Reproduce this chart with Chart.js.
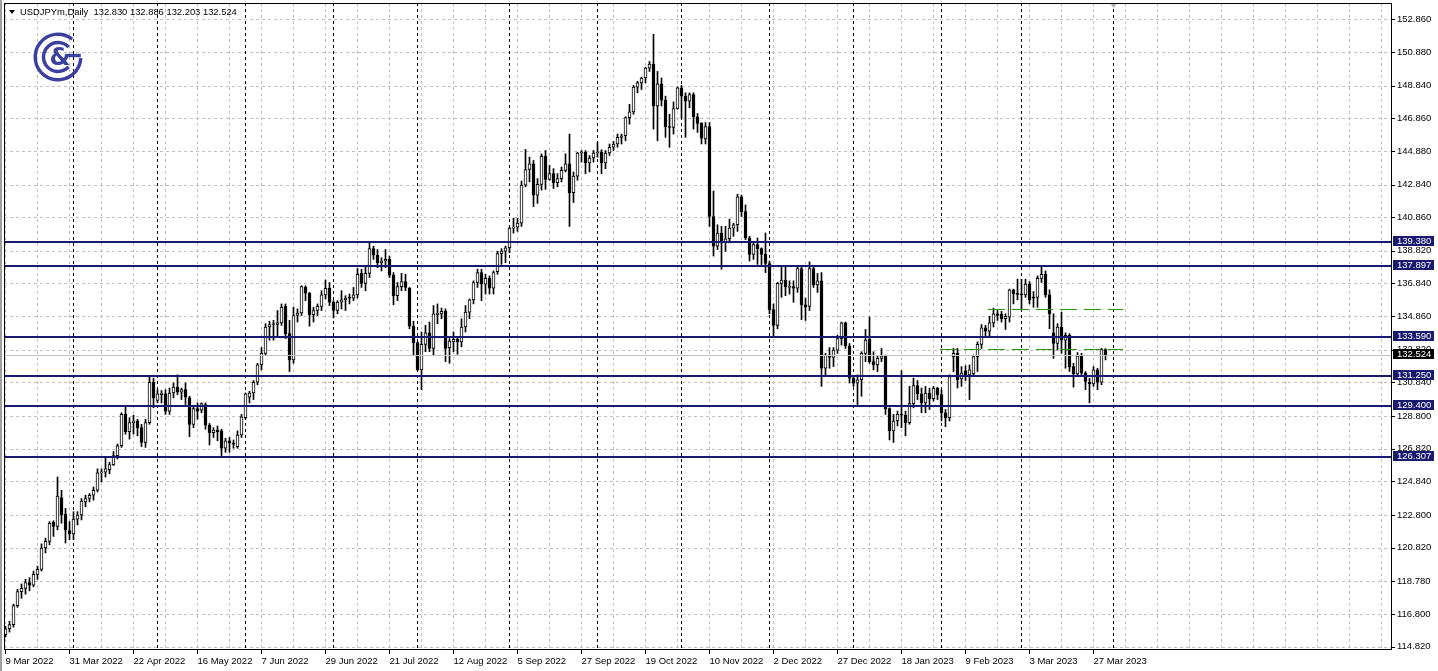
<!DOCTYPE html>
<html><head><meta charset="utf-8">
<script src="https://cdn.jsdelivr.net/npm/chart.js@4.4.1/dist/chart.umd.min.js"></script>
<style>html,body{margin:0;padding:0;background:#fff;overflow:hidden}canvas{display:block}</style>
</head><body>
<canvas id="c" width="1438" height="671"></canvas>
<script>
// ---- data (bar index 0 = 9 Mar 2022 ... 275 = 30 Mar 2023) ----
const opens=[
115.55,115.90,116.15,117.30,118.15,118.35,118.70,118.55,119.20,119.50,
120.80,121.20,122.35,122.10,123.85,122.85,121.85,121.65,122.55,122.80,
123.60,123.80,124.00,124.30,125.35,125.40,125.55,125.85,126.40,127.00,
128.90,127.85,128.40,128.50,128.10,127.20,128.40,130.85,129.75,130.10,
130.15,129.10,130.20,130.55,130.25,130.40,129.90,128.30,129.25,129.15,
129.50,128.25,127.80,127.95,127.90,126.85,127.30,127.15,126.95,127.65,
128.70,129.95,130.20,130.85,131.90,132.60,134.20,134.35,134.35,134.45,
135.45,133.80,132.20,134.90,135.05,136.60,136.25,134.95,135.20,135.45,
136.15,136.55,135.70,135.20,135.70,135.85,136.00,135.95,136.15,137.45,
136.85,137.45,138.95,138.55,138.10,138.20,138.30,137.35,136.10,136.65,
136.95,136.55,134.25,133.25,131.60,133.15,133.85,132.90,134.95,135.00,
135.15,132.95,133.30,133.45,133.30,134.20,135.10,135.85,136.90,137.50,
136.80,137.15,136.55,137.55,138.65,138.80,139.00,140.20,140.25,140.50,
142.80,143.75,144.10,142.20,142.85,144.55,143.15,143.50,142.95,143.20,
143.70,144.10,142.35,143.35,144.75,144.80,144.15,144.45,144.75,144.80,
144.15,144.75,145.10,145.30,145.70,145.80,146.90,147.25,148.75,149.00,
149.30,149.90,150.15,147.60,148.95,147.95,146.35,146.30,147.45,148.70,
148.20,147.90,148.30,146.95,146.55,145.60,146.35,140.90,139.10,139.90,
139.30,139.55,140.20,140.40,142.10,141.20,139.60,138.60,139.20,138.95,
138.60,138.05,135.25,134.30,136.85,137.05,136.60,136.65,136.55,137.75,
135.55,135.45,137.75,136.75,137.00,131.70,132.50,132.35,132.80,133.50,
134.45,133.05,131.10,130.80,131.00,132.60,133.45,132.10,131.90,132.30,
132.45,129.25,127.90,128.50,128.90,128.85,128.40,129.55,130.65,130.15,
129.60,130.20,129.85,130.50,130.10,129.00,128.70,132.40,132.60,131.05,
131.55,131.30,131.35,132.40,133.15,134.15,133.95,134.45,135.00,134.98,
134.70,134.80,136.45,136.22,136.18,136.15,136.80,136.00,136.00,137.15,
137.40,136.15,133.85,133.20,134.20,133.40,133.70,131.80,131.35,132.45,
131.40,130.85,130.75,131.60,130.85,132.830];
const highs=[
116.05,116.35,117.40,118.30,118.62,118.90,119.00,119.40,119.70,121.05,
121.40,122.40,122.45,125.10,124.30,123.20,122.40,123.00,123.00,123.80,
124.00,124.10,124.50,125.60,125.60,126.30,126.00,126.65,127.10,129.00,
129.45,128.70,128.85,128.60,128.30,128.60,131.25,131.10,130.40,130.35,
130.40,130.50,130.80,131.30,130.50,130.80,130.00,129.40,129.60,129.60,
129.60,128.35,128.10,128.20,128.00,127.45,127.50,127.35,127.90,128.90,
130.20,130.30,130.95,132.00,132.95,134.40,134.55,134.60,135.20,135.60,
135.60,134.60,135.40,135.30,136.70,136.70,136.30,135.40,135.60,136.40,
137.05,136.90,135.80,135.80,136.40,136.10,136.20,136.60,137.75,137.70,
137.90,139.38,139.10,138.90,138.40,138.90,138.50,137.50,136.90,137.45,
137.40,136.60,134.55,133.30,133.90,134.30,134.50,135.50,135.60,135.35,
135.30,133.50,133.90,133.60,134.70,135.50,135.90,137.00,137.70,137.70,
137.40,137.30,137.60,138.80,138.95,139.10,140.25,140.80,140.80,143.05,
144.97,144.50,144.30,143.20,144.70,144.90,144.00,143.80,143.50,143.90,
144.70,145.90,143.60,144.80,144.90,144.90,144.60,144.90,145.40,144.95,
144.90,145.30,145.45,145.90,145.90,146.95,147.70,148.85,149.10,149.35,
149.95,150.30,151.95,149.70,149.30,148.20,147.10,147.85,148.75,148.85,
148.40,148.40,148.40,147.15,146.60,146.60,146.60,142.45,140.40,140.30,
140.30,140.75,140.50,142.25,142.20,141.60,139.70,139.35,139.60,139.00,
139.90,138.20,135.60,136.90,137.85,137.85,137.00,137.00,137.90,137.90,
135.95,138.15,137.85,137.45,137.50,132.60,132.95,132.95,133.70,134.50,
134.50,133.20,131.20,131.30,132.70,134.05,134.80,132.70,132.45,132.90,
132.50,129.30,128.90,129.10,131.55,129.10,130.60,131.10,130.95,130.50,
130.60,130.50,130.60,130.55,130.40,129.20,131.30,132.90,132.90,131.80,
131.85,131.90,132.50,133.30,134.35,134.30,134.85,135.35,135.20,135.15,
135.00,136.50,136.50,137.10,137.10,137.10,136.95,136.35,137.30,137.90,
137.60,136.45,135.00,134.40,135.10,133.85,133.80,132.00,132.65,132.60,
131.50,131.10,131.80,131.70,132.90,132.886];
const lows=[
115.40,115.70,116.00,117.20,117.75,118.00,118.20,118.45,118.90,119.40,
120.50,121.00,121.50,121.90,122.30,121.10,121.30,121.30,122.20,122.50,
123.30,123.60,123.70,124.20,124.80,125.10,125.30,125.80,126.20,126.90,
127.70,127.40,127.70,127.60,126.95,126.90,128.30,129.30,129.60,129.60,
128.90,128.90,129.90,130.10,129.80,129.50,127.55,128.10,128.60,129.00,
128.00,127.05,127.50,127.30,126.40,126.60,126.60,126.85,126.85,127.50,
128.60,129.60,129.80,130.70,131.60,132.50,133.40,133.40,133.60,134.30,
133.50,131.50,132.00,134.50,134.90,135.80,134.25,134.50,134.90,135.20,
135.90,135.50,134.75,135.00,135.30,135.20,135.60,135.80,135.95,136.60,
136.40,137.20,138.30,137.80,137.60,137.80,137.20,135.55,135.80,136.40,
136.40,134.10,132.50,131.55,130.40,132.70,132.70,132.50,134.40,134.70,
132.10,132.00,132.70,132.55,133.00,133.90,134.70,135.60,136.60,135.80,
136.20,136.20,136.20,137.40,138.00,138.10,138.70,139.90,140.00,140.30,
142.70,143.00,141.50,141.70,142.50,142.55,143.10,142.60,142.70,143.00,
143.60,140.30,141.75,143.10,144.20,143.50,143.60,144.20,144.50,143.50,
143.80,144.60,144.90,145.10,145.30,145.50,146.50,147.10,148.40,148.60,
149.00,149.70,146.20,145.50,147.60,145.70,145.10,145.90,147.40,146.85,
145.70,147.50,146.20,146.00,145.30,145.30,140.30,138.50,138.90,137.70,
138.80,139.30,139.70,140.00,140.90,139.50,138.20,138.30,138.00,137.90,
137.50,135.00,133.65,134.10,136.00,136.10,136.20,135.70,136.30,134.65,
134.60,135.20,136.60,136.30,130.60,131.30,131.70,131.80,132.60,133.10,
132.90,130.80,130.60,129.50,130.00,132.10,132.00,131.60,131.50,132.10,
128.90,127.35,127.20,128.20,128.10,127.60,128.30,129.30,129.80,129.00,
129.00,129.20,129.70,129.80,128.50,128.15,128.50,131.50,130.50,130.60,
130.95,129.80,131.25,131.50,132.90,133.60,133.60,134.20,134.60,134.50,
134.05,134.50,135.60,135.85,135.25,136.00,135.60,135.40,135.40,136.90,
136.00,134.10,132.30,132.80,132.60,131.70,131.50,130.55,131.20,131.20,
130.40,129.60,130.60,130.40,130.70,132.203];
const closes=[
115.90,116.15,117.30,118.15,118.35,118.70,118.55,119.20,119.50,120.80,
121.20,122.30,122.10,123.95,122.80,121.90,121.65,122.55,122.80,123.65,
123.80,124.00,124.30,125.35,125.40,125.60,125.85,126.40,127.00,128.90,
127.85,128.40,128.50,128.10,127.20,128.40,130.85,129.90,130.15,130.20,
129.10,130.20,130.55,130.25,130.40,129.95,128.30,129.25,129.10,129.55,
128.25,127.80,127.95,127.85,126.85,127.30,127.15,127.10,127.65,128.75,
130.15,130.20,130.85,131.90,132.60,134.20,134.35,134.40,134.45,135.40,
133.80,132.20,134.90,135.05,136.65,136.25,134.95,135.20,135.45,136.15,
136.55,135.70,135.20,135.70,135.85,135.95,135.95,136.15,137.40,136.85,
137.45,138.95,138.55,138.10,138.20,138.30,137.35,136.10,136.65,136.95,
136.60,134.25,133.25,131.60,133.15,133.85,132.90,135.00,135.05,135.15,
132.90,133.35,133.45,133.30,134.20,135.10,135.85,136.90,137.50,136.80,
137.15,136.55,137.50,138.65,138.80,139.00,140.20,140.25,140.50,142.80,
143.75,144.10,142.20,142.85,144.55,143.15,143.50,142.95,143.20,143.70,
144.10,142.35,143.35,144.75,144.80,144.15,144.45,144.75,144.80,144.15,
144.75,145.10,145.30,145.70,145.80,146.90,147.25,148.75,149.00,149.30,
149.90,150.15,147.60,148.95,147.95,146.35,146.30,147.45,148.70,148.20,
147.90,148.30,146.95,146.55,145.65,146.35,140.90,139.10,139.90,139.30,
139.55,140.20,140.40,142.10,141.20,139.60,138.60,139.20,138.95,138.60,
138.05,135.25,134.30,136.85,137.05,136.65,136.65,136.55,137.75,135.55,
135.40,137.75,136.75,137.00,131.70,132.50,132.35,132.80,133.50,134.45,
133.05,131.10,130.80,131.00,132.60,133.40,132.10,131.90,132.30,132.45,
129.25,127.90,128.50,128.90,128.85,128.40,129.55,130.65,130.15,129.60,
130.20,129.85,130.50,130.10,129.00,128.70,131.20,132.60,131.00,131.40,
131.30,131.60,132.40,133.15,134.15,133.95,134.45,135.00,134.90,134.70,
134.85,136.45,136.20,136.18,136.15,136.80,135.85,135.95,137.15,137.40,
136.15,135.00,133.20,134.20,133.40,133.70,131.80,131.35,132.45,131.40,
130.90,130.75,131.60,130.85,132.85,132.524];

const yTicks=[152.860,150.880,148.840,146.860,144.880,142.840,140.860,138.820,136.840,134.860,
132.820,130.840,128.800,126.820,124.840,122.800,120.820,118.780,116.800,114.820];
const labelBars=[0,16,32,48,64,80,96,112,128,144,160,176,192,208,224,240,256,272];
const labelTexts=['9 Mar 2022','31 Mar 2022','22 Apr 2022','16 May 2022','7 Jun 2022','29 Jun 2022',
'21 Jul 2022','12 Aug 2022','5 Sep 2022','27 Sep 2022','19 Oct 2022','10 Nov 2022','2 Dec 2022',
'27 Dec 2022','18 Jan 2023','9 Feb 2023','3 Mar 2023','27 Mar 2023'];
const monthStartBars=[17,38,60,82,103,126,148,169,191,212,234,254,277];
const levelPrices=[139.380,137.897,133.590,131.250,129.400,126.307];
const bidPrice=132.524;
const greenLevels=[132.89,135.27];
const greenFromBar=[233.6,245.6];
const greenToBar=[279.4,279.4];
const shiftMarkBar=277;
const headerText='USDJPYm,Daily  132.830 132.886 132.203 132.524';

// ---- scale ranges ----
const xMin=-0.375, xMax=346.375;
const yMin=114.674, yMax=153.848;

const bodies=opens.map((o,i)=>({x:i,y:[o,closes[i]],up:closes[i]>=o}));
const wicks=lows.map((l,i)=>({x:i,y:[l,highs[i]]}));

const FONT='"Liberation Sans", Arial, sans-serif';
const NAVY='#191970';

function hline(ctx,x1,x2,y){ctx.beginPath();ctx.moveTo(x1,y);ctx.lineTo(x2,y);ctx.stroke();}
function vline(ctx,x,y1,y2){ctx.beginPath();ctx.moveTo(x,y1);ctx.lineTo(x,y2);ctx.stroke();}

const mtPlugin={
  id:'mt',
  beforeDatasetsDraw(chart){
    const {ctx,chartArea:a,scales:{x,y}}=chart;
    ctx.save();
    ctx.beginPath();ctx.rect(a.left,a.top,a.right-a.left,a.bottom-a.top);ctx.clip();
    ctx.lineWidth=1;ctx.strokeStyle='#c0c0c0';ctx.setLineDash([3,3]);
    yTicks.forEach(v=>{const py=Math.round(y.getPixelForValue(v))+0.5;hline(ctx,a.left,a.right,py);});
    for(let i=0;i<=xMax;i+=8){const px=Math.floor(x.getPixelForValue(i))+0.5;vline(ctx,px,a.top,a.bottom);}
    ctx.strokeStyle='#000';ctx.setLineDash([3,3]);
    monthStartBars.forEach(b=>{const px=Math.floor(x.getPixelForValue(b))+0.5;vline(ctx,px,a.top,a.bottom);});
    ctx.restore();
  },
  afterDatasetsDraw(chart){
    const {ctx,chartArea:a,scales:{x,y}}=chart;
    ctx.save();
    ctx.beginPath();ctx.rect(a.left,a.top,a.right-a.left,a.bottom-a.top);ctx.clip();
    // bid line
    ctx.lineWidth=1;ctx.strokeStyle='#c0c0c0';ctx.setLineDash([]);
    hline(ctx,a.left,a.right,Math.round(y.getPixelForValue(bidPrice))+0.5);
    // green dashed lines
    ctx.strokeStyle='#2f9400';ctx.setLineDash([17,7]);
    greenLevels.forEach((v,k)=>{const py=Math.round(y.getPixelForValue(v))+0.5;
      hline(ctx,x.getPixelForValue(greenFromBar[k]),x.getPixelForValue(greenToBar[k]),py);});
    // levels
    ctx.setLineDash([]);ctx.lineWidth=2;ctx.strokeStyle=NAVY;
    levelPrices.forEach(v=>{const py=Math.round(y.getPixelForValue(v));hline(ctx,a.left,a.right,py);});
    ctx.restore();
  },
  afterDraw(chart){
    const {ctx,chartArea:a,scales:{x,y}}=chart;
    ctx.save();
    // window edge
    ctx.fillStyle='#a0a0a0';ctx.fillRect(0,0,2,chart.height);
    // frame
    ctx.lineWidth=1;ctx.strokeStyle='#000';ctx.setLineDash([]);
    ctx.strokeRect(a.left+0.5,a.top+0.5,a.right-a.left,a.bottom-a.top);
    // chart shift marker
    const sx=Math.floor(x.getPixelForValue(shiftMarkBar))+0.5;
    ctx.fillStyle='#b0b0b0';ctx.beginPath();ctx.moveTo(sx-3,a.top+1);ctx.lineTo(sx+3,a.top+1);ctx.lineTo(sx,a.top+5);ctx.closePath();ctx.fill();
    // ticks
    yTicks.forEach(v=>{const py=Math.round(y.getPixelForValue(v))+0.5;hline(ctx,a.right,a.right+4,py);});
    labelBars.forEach(b=>{const px=Math.floor(x.getPixelForValue(b))+0.5;vline(ctx,px,a.bottom,a.bottom+5);});
    // level boxes
    ctx.font='9.5px '+FONT;ctx.textBaseline='middle';ctx.textAlign='left';
    const box=(v,bg)=>{const py=Math.round(y.getPixelForValue(v));
      ctx.fillStyle=bg;ctx.fillRect(a.right+2,py-6,41,10);
      ctx.fillStyle='#fff';ctx.fillText(v.toFixed(3),a.right+6,py-0.5);};
    levelPrices.forEach(v=>box(v,NAVY));
    box(bidPrice,'#000');
    // header
    ctx.fillStyle='#000';
    ctx.beginPath();ctx.moveTo(9,10);ctx.lineTo(15,10);ctx.lineTo(12,14);ctx.closePath();ctx.fill();
    ctx.font='9.4px '+FONT;ctx.textBaseline='middle';ctx.fillText(headerText,20,12.5);
    // logo
    ctx.strokeStyle='#3b3f9e';ctx.fillStyle='#3b3f9e';ctx.lineWidth=3.4;ctx.lineCap='butt';
    const cx=58,cy=57;
    ctx.beginPath();ctx.arc(cx,cy,22.8,-0.9,0.05,true);ctx.stroke();
    ctx.beginPath();ctx.moveTo(cx+22.8,cy-1.5);ctx.lineTo(cx+9,cy-1.5);ctx.stroke();
    ctx.beginPath();ctx.arc(cx,cy,14.5,-0.75,0.75,true);ctx.stroke();
    ctx.font='bold 24px "DejaVu Sans", sans-serif';ctx.textAlign='center';ctx.textBaseline='middle';
    ctx.fillText('&',cx+2,cy+2);
    ctx.restore();
  }
};

new Chart(document.getElementById('c'),{
  type:'bar',
  data:{datasets:[
    {label:'body',data:bodies,order:0,grouped:false,barThickness:3,borderWidth:1,borderColor:'#000',
     borderSkipped:false,minBarLength:1,backgroundColor:c=>(c.raw&&c.raw.up)?'#ffffff':'#000000'},
    {label:'wick',data:wicks,order:1,grouped:false,barThickness:1,borderWidth:0,backgroundColor:'#000'}
  ]},
  options:{
    responsive:false,animation:false,devicePixelRatio:1,
    layout:{padding:{top:3,left:4,right:0,bottom:0}},
    plugins:{legend:{display:false},tooltip:{enabled:false},title:{display:false}},
    scales:{
      x:{type:'linear',min:xMin,max:xMax,offset:false,
        grid:{display:false,drawTicks:false},border:{display:false},
        afterBuildTicks:s=>{s.ticks=labelBars.map(v=>({value:v}));},
        ticks:{autoSkip:false,maxRotation:0,minRotation:0,align:'start',padding:7,color:'#000',
          font:{family:FONT,size:9.5},callback:v=>{const k=labelBars.indexOf(v);return k>=0?labelTexts[k]:'';}},
        afterFit:s=>{s.height=22;s.paddingLeft=0;s.paddingRight=0;s.paddingTop=0;s.paddingBottom=0;}},
      y:{position:'right',min:yMin,max:yMax,
        grid:{display:false,drawTicks:false},border:{display:false},
        afterBuildTicks:s=>{s.ticks=yTicks.map(v=>({value:v}));},
        ticks:{autoSkip:false,padding:6,color:'#000',font:{family:FONT,size:9.5},callback:v=>Number(v).toFixed(3)},
        afterFit:s=>{s.width=47;s.paddingLeft=0;s.paddingRight=0;s.paddingTop=0;s.paddingBottom=0;}}
    }
  },
  plugins:[mtPlugin]
});
</script>
</body></html>
